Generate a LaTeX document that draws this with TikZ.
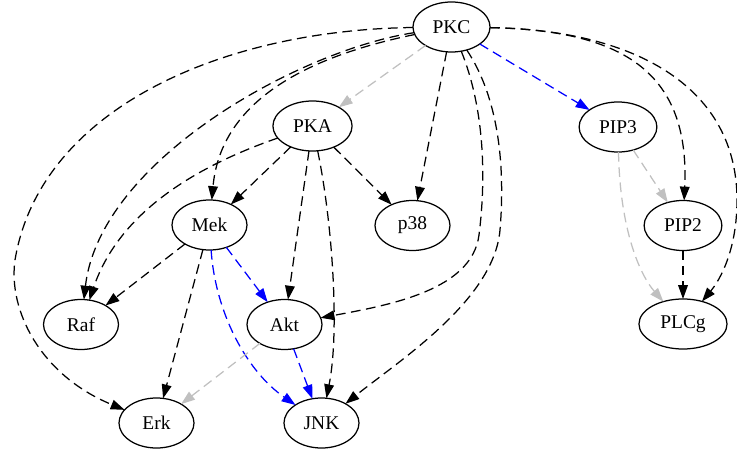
\documentclass[tikz,border=0pt]{standalone}
\usepackage{fontspec}
\setmainfont{Liberation Serif}
\usetikzlibrary{arrows.meta,shapes.geometric}
\definecolor{gvgray}{RGB}{192,192,192}
\definecolor{gvblue}{RGB}{0,0,255}
\begin{document}
\begin{tikzpicture}[x=0.72pt,y=-0.72pt,
  nd/.style={draw,ellipse,line width=0.9pt,minimum width=54pt,minimum height=36pt,
    inner sep=0pt,outer sep=0pt,font=\fontsize{14}{16}\selectfont},
  ed/.style={line width=0.9pt,dash pattern=on 7pt off 4pt,
    -{Triangle[length=10pt,width=7pt]}},
  gr/.style={ed,draw=gvgray,fill=none},
  bl/.style={ed,draw=gvblue}]
\useasboundingbox (0,0) rectangle (737,453);
% nodes
\node[nd,minimum width=55.5pt] (PKC)  at (451.5,27)  {PKC};
\node[nd,minimum width=57pt]   (PKA)  at (312.5,126) {PKA};
\node[nd,minimum width=56pt]   (PIP3) at (618,127)   {PIP3};
\node[nd] (Mek)  at (209.5,225) {Mek};
\node[nd] (p38)  at (412.5,225.5) {p38};
\node[nd,minimum width=56pt]   (PIP2) at (683,225.5) {PIP2};
\node[nd] (Raf)  at (81,324.5) {Raf};
\node[nd] (Akt)  at (284.5,324.5) {Akt};
\node[nd,minimum width=63.4pt] (PLCg) at (683,324) {PLCg};
\node[nd] (Erk)  at (156.5,423) {Erk};
\node[nd] (JNK)  at (321.5,423) {JNK};
% PKC edges
\draw[gr] (PKC) -- (PKA);
\draw[bl] (PKC) -- (PIP3);
\draw[ed] (PKC) -- (p38);
\coordinate (kA) at (479,235);
\draw[ed] (PKC) .. controls (485,110) and (486,180) .. (kA)
  .. controls (472,290) and (390,305) .. (Akt);
\coordinate (kJ) at (500,230);
\draw[ed] (PKC) .. controls (500,100) and (505,170) .. (kJ)
  .. controls (494,300) and (400,360) .. (JNK);
\draw[ed] (PKC) .. controls (620,30) and (690,70) .. (PIP2);
\coordinate (kL) at (737,200);
\draw[ed] (PKC) .. controls (640,30) and (737,90) .. (kL)
  .. controls (737,250) and (720,280) .. (PLCg);
\draw[ed] (PKC) .. controls (290,60) and (220,110) .. (Mek);
\draw[ed] (PKC) .. controls (300,50) and (100,160) .. (Raf);
\coordinate (kE) at (15,260);
\draw[ed] (PKC) .. controls (220,30) and (40,110) .. (kE)
  .. controls (8,310) and (40,375) .. (Erk);
% PKA edges
\draw[ed] (PKA) -- (Mek);
\draw[ed] (PKA) .. controls (200,165) and (120,210) .. (Raf);
\draw[ed] (PKA) -- (p38);
\draw[ed] (PKA) -- (Akt);
\draw[ed] (PKA) .. controls (332,220) and (340,330) .. (JNK);
% Mek edges
\draw[ed] (Mek) -- (Raf);
\draw[ed] (Mek) -- (Erk);
\draw[bl] (Mek) -- (Akt);
\draw[bl] (Mek) .. controls (215,310) and (245,370) .. (JNK);
% Akt edges
\draw[gr] (Akt) -- (Erk);
\draw[bl] (Akt) -- (JNK);
% PIP edges
\draw[gr] (PIP3) -- (PIP2);
\draw[gr] (PIP3) .. controls (620,230) and (640,275) .. (PLCg);
\draw[ed] (PIP2) -- (PLCg);
\end{tikzpicture}
\end{document}
